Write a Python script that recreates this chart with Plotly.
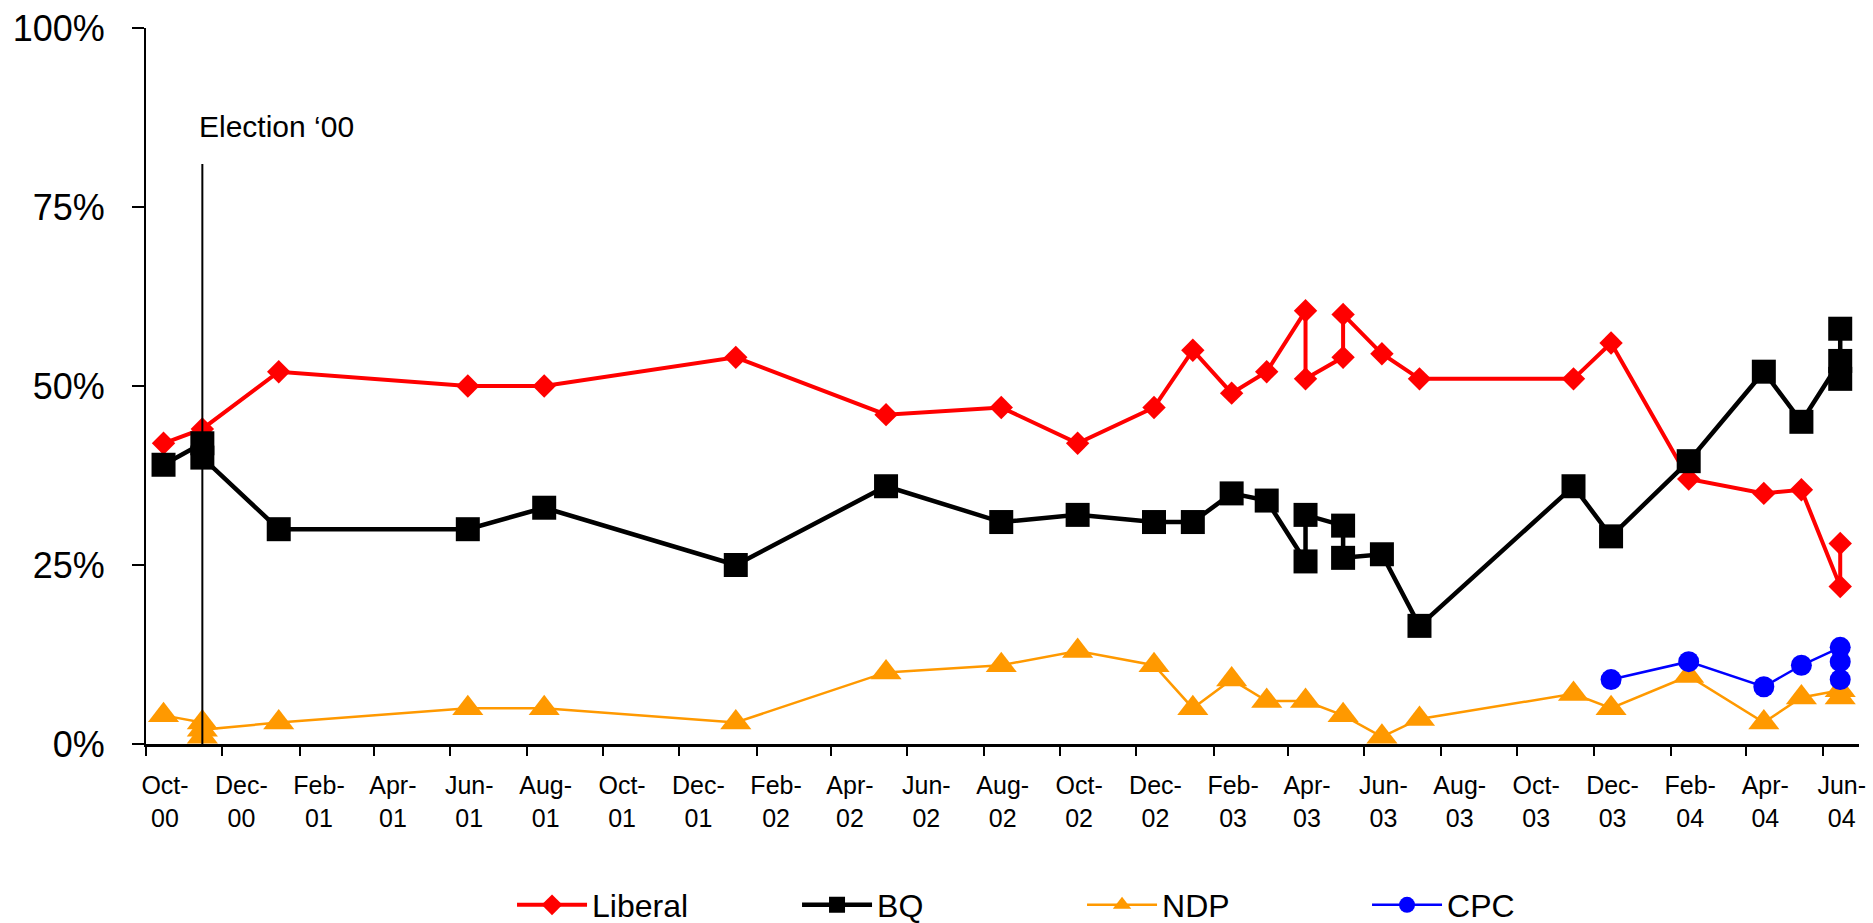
import plotly.graph_objects as go

# poll dates (mid-month) and shares
liberal_dates = [
    "2000-10-15", "2000-11-15", "2001-01-15", "2001-06-15", "2001-08-15",
    "2002-01-15", "2002-05-15", "2002-08-15", "2002-10-15", "2002-12-15",
    "2003-01-15", "2003-02-15", "2003-03-15", "2003-04-15", "2003-04-15",
    "2003-05-15", "2003-05-15", "2003-06-15", "2003-07-15", "2003-11-15",
    "2003-12-15", "2004-02-15", "2004-04-15", "2004-05-15", "2004-06-15",
    "2004-06-15",
]
liberal = [42, 44, 52, 50, 50, 54, 46, 47, 42, 47, 55, 49, 52, 60.5, 51,
           54, 60, 54.5, 51, 51, 56, 37, 35, 35.5, 22, 28]

bq_dates = [
    "2000-10-15", "2000-11-15", "2000-11-15", "2001-01-15", "2001-06-15",
    "2001-08-15", "2002-01-15", "2002-05-15", "2002-08-15", "2002-10-15",
    "2002-12-15", "2003-01-15", "2003-02-15", "2003-03-15", "2003-04-15",
    "2003-04-15", "2003-05-15", "2003-05-15", "2003-06-15", "2003-07-15",
    "2003-11-15", "2003-12-15", "2004-02-15", "2004-04-15", "2004-05-15",
    "2004-06-15", "2004-06-15", "2004-06-15",
]
bq = [39, 42, 40, 30, 30, 33, 25, 36, 31, 32, 31, 31, 35, 34, 25.5, 32,
      30.5, 26, 26.5, 16.5, 36, 29, 39.5, 52, 45, 53.5, 51, 58]

ndp_dates = [
    "2000-10-15", "2000-11-15", "2000-11-15", "2000-11-15", "2001-01-15",
    "2001-06-15", "2001-08-15", "2002-01-15", "2002-05-15", "2002-08-15",
    "2002-10-15", "2002-12-15", "2003-01-15", "2003-02-15", "2003-03-15",
    "2003-04-15", "2003-05-15", "2003-06-15", "2003-07-15", "2003-11-15",
    "2003-12-15", "2004-02-15", "2004-04-15", "2004-05-15", "2004-06-15",
    "2004-06-15",
]
ndp = [4, 3, 1, 2, 3, 5, 5, 3, 10, 11, 13, 11, 5, 9, 6, 6, 4, 1, 3.5, 7,
       5, 9.5, 3, 6.5, 7.5, 6.5]

cpc_dates = ["2003-12-15", "2004-02-15", "2004-04-15", "2004-05-15",
             "2004-06-15", "2004-06-15", "2004-06-15"]
cpc = [9, 11.5, 8, 11, 13.5, 11.5, 9]

election_date = "2000-11-15"
election_top = 81

tick_dates = [
    "2000-10-01", "2000-12-01", "2001-02-01", "2001-04-01", "2001-06-01",
    "2001-08-01", "2001-10-01", "2001-12-01", "2002-02-01", "2002-04-01",
    "2002-06-01", "2002-08-01", "2002-10-01", "2002-12-01", "2003-02-01",
    "2003-04-01", "2003-06-01", "2003-08-01", "2003-10-01", "2003-12-01",
    "2004-02-01", "2004-04-01", "2004-06-01",
]
tick_labels = [
    "Oct-<br>00", "Dec-<br>00", "Feb-<br>01", "Apr-<br>01", "Jun-<br>01",
    "Aug-<br>01", "Oct-<br>01", "Dec-<br>01", "Feb-<br>02", "Apr-<br>02",
    "Jun-<br>02", "Aug-<br>02", "Oct-<br>02", "Dec-<br>02", "Feb-<br>03",
    "Apr-<br>03", "Jun-<br>03", "Aug-<br>03", "Oct-<br>03", "Dec-<br>03",
    "Feb-<br>04", "Apr-<br>04", "Jun-<br>04",
]
y_ticks = [0, 25, 50, 75, 100]
y_labels = ["0%", "25%", "50%", "75%", "100%"]

FONT = "Arial, Liberation Sans, sans-serif"

fig = go.Figure()

fig.add_trace(go.Scatter(
    x=liberal_dates, y=liberal, mode="lines+markers", name="Liberal",
    line=dict(color="#FF0000", width=4),
    marker=dict(symbol="diamond", size=18, color="#FF0000"),
))
fig.add_trace(go.Scatter(
    x=bq_dates, y=bq, mode="lines+markers", name="BQ",
    line=dict(color="#000000", width=4.5),
    marker=dict(symbol="square", size=24, color="#000000"),
))
fig.add_trace(go.Scatter(
    x=ndp_dates, y=ndp, mode="lines+markers", name="NDP",
    line=dict(color="#FF9900", width=2.5),
    marker=dict(symbol="triangle-up", size=27, color="#FF9900"),
))
fig.add_trace(go.Scatter(
    x=cpc_dates, y=cpc, mode="lines+markers", name="CPC",
    line=dict(color="#0000FF", width=2.5),
    marker=dict(symbol="circle", size=21, color="#0000FF"),
))

# election marker
fig.add_shape(type="line", xref="x", yref="y", layer="above",
              x0=election_date, x1=election_date, y0=0, y1=election_top,
              line=dict(color="black", width=2))
fig.add_annotation(x=election_date, y=86.2, xref="x", yref="y",
                   text="Election \u201800", showarrow=False,
                   xanchor="left", yanchor="middle", xshift=-5,
                   font=dict(family=FONT, size=30, color="black"))

fig.update_layout(
    width=1873, height=923,
    paper_bgcolor="white", plot_bgcolor="white",
    margin=dict(l=146, r=14, t=28, b=179, autoexpand=False),
    font=dict(family=FONT, color="black"),
    showlegend=True,
    legend=dict(
        orientation="h", xref="container", yref="container",
        x=0.5777, xanchor="center", y=0.0195, yanchor="middle",
        font=dict(family=FONT, size=32, color="black"),
        itemwidth=70, entrywidth=200, bgcolor="rgba(0,0,0,0)",
    ),
    xaxis=dict(
        type="date", range=["2000-10-01", "2004-06-30"],
        tickvals=tick_dates, ticktext=tick_labels,
        ticks="outside", ticklen=9, tickwidth=2, tickcolor="black",
        showline=True, linecolor="black", linewidth=3,
        showgrid=False, zeroline=False, automargin=False,
        ticklabelshift=19, ticklabelstandoff=8,
        tickfont=dict(family=FONT, size=25, color="black"),
    ),
    yaxis=dict(
        range=[0, 100], tickvals=y_ticks, ticktext=y_labels,
        ticks="outside", ticklen=12, tickwidth=2, tickcolor="black",
        showline=True, linecolor="black", linewidth=2,
        showgrid=False, zeroline=False, automargin=False,
        ticklabelstandoff=20,
        tickfont=dict(family=FONT, size=36, color="black"),
    ),
)

# drop the browser's default page margin so the figure sits at the corner
fig.write_html("out.html", config={"displayModeBar": False},
               post_script="document.body.style.margin='0';")
